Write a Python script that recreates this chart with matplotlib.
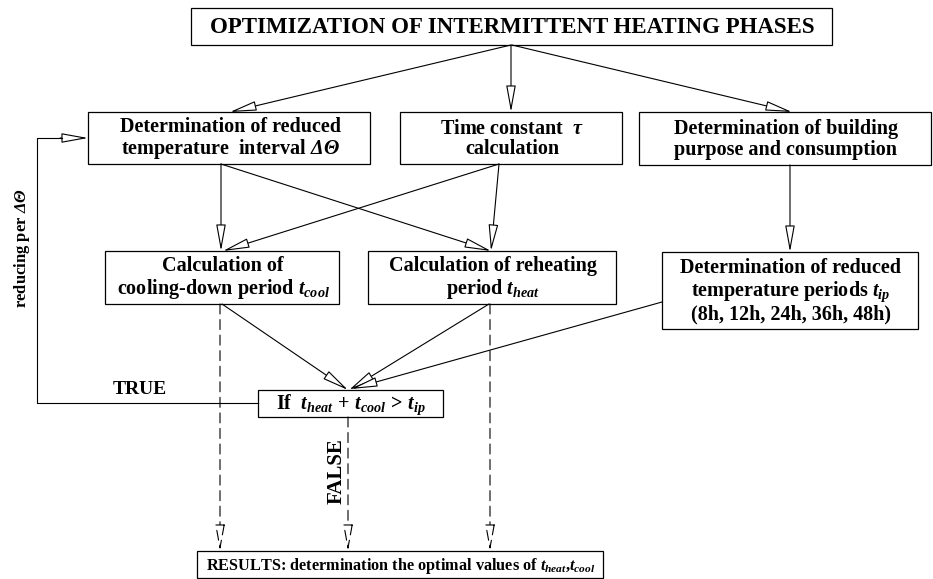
import matplotlib
matplotlib.use('Agg')
import matplotlib.pyplot as plt
from matplotlib.patches import Rectangle, FancyArrowPatch, ArrowStyle

plt.rcParams['font.family'] = 'Liberation Serif'
plt.rcParams['font.weight'] = 'bold'
plt.rcParams['mathtext.fontset'] = 'custom'
plt.rcParams['mathtext.rm'] = 'Liberation Serif:bold'
plt.rcParams['mathtext.it'] = 'Liberation Serif:italic:bold'
plt.rcParams['mathtext.bf'] = 'Liberation Serif:bold'
plt.rcParams['mathtext.sf'] = 'Liberation Serif:italic'

# box texts
box_names = ['top', 'A', 'B', 'C', 'D', 'E', 'F', 'G', 'H']
box_labels = [
    'OPTIMIZATION OF INTERMITTENT HEATING PHASES',
    'Determination of reduced\ntemperature  interval $\\mathsf{\\Delta\\Theta}$',
    'Time constant  $\\tau$\ncalculation',
    'Determination of building\npurpose and consumption',
    'Calculation of\ncooling-down period $t_{cool}$',
    'Calculation of reheating\nperiod $t_{heat}$',
    'Determination of reduced\ntemperature periods $t_{ip}$\n(8h, 12h, 24h, 36h, 48h)',
    'If  $t_{heat}\\,+\\,t_{cool}\\,>\\,t_{ip}$',
    'RESULTS: determination the optimal values of $t_{heat}$,$t_{cool}$',
]
# connections (from, to)
solid_edges = [('top', 'A'), ('top', 'B'), ('top', 'C'),
               ('A', 'D'), ('A', 'E'), ('B', 'D'), ('B', 'E'), ('C', 'F'),
               ('D', 'G'), ('E', 'G'), ('F', 'G')]
dashed_edges = [('D', 'H'), ('G', 'H'), ('E', 'H')]
loop_label = 'reducing per $\\mathsf{\\Delta\\Theta}$'
true_label = 'TRUE'
false_label = 'FALSE'

# layout in pixels (x0, y0, x1, y1)
box_pos = {
    'top': (191, 8, 832, 45),
    'A': (88, 112, 370, 164),
    'B': (400, 112, 622, 164),
    'C': (639, 112, 931, 165),
    'D': (105, 251, 339, 304),
    'E': (368, 251, 616, 304),
    'F': (662, 252, 918, 329),
    'G': (258, 390, 443, 417),
    'H': (197, 551, 603, 578),
}
box_fontsize = {'top': 16.5, 'H': 11.7}
edge_pts = {
    ('top', 'A'): ((511, 45), (230, 112)),
    ('top', 'B'): ((511, 45), (511, 112)),
    ('top', 'C'): ((512, 45), (792, 112)),
    ('A', 'D'): ((221, 164), (221, 251)),
    ('A', 'E'): ((221, 164), (491, 251)),
    ('B', 'D'): ((499, 164), (223, 251)),
    ('B', 'E'): ((499, 164), (491, 251)),
    ('C', 'F'): ((790, 165), (790, 252)),
    ('D', 'G'): ((222, 304), (348, 390)),
    ('E', 'G'): ((489, 304), (349, 390)),
    ('F', 'G'): ((662, 302), (351, 389)),
    ('D', 'H'): ((220, 304), (220, 551)),
    ('G', 'H'): ((348, 417), (348, 551)),
    ('E', 'H'): ((490, 304), (490, 551)),
}

W, H = 933, 579
fig = plt.figure(figsize=(W / 100, H / 100), dpi=100)
ax = fig.add_axes([0, 0, 1, 1])
ax.set_xlim(0, W)
ax.set_ylim(H, 0)
ax.axis('off')

head = ArrowStyle('-|>', head_length=1.65, head_width=0.3)


def arrow(p0, p1, ls='-'):
    a = FancyArrowPatch(p0, p1, arrowstyle=head, mutation_scale=10,
                        lw=0.8, ec='black', fc='white', linestyle=ls,
                        shrinkA=0, shrinkB=0)
    ax.add_patch(a)


for name, label in zip(box_names, box_labels):
    x0, y0, x1, y1 = box_pos[name]
    ax.add_patch(Rectangle((x0, y0), x1 - x0, y1 - y0, fill=False, lw=0.9, ec='black'))
    fs = box_fontsize.get(name, 14.5)
    ax.text((x0 + x1) / 2 + 1, (y0 + y1) / 2 + 1, label, ha='center', va='center',
            multialignment='center', fontsize=fs, linespacing=1.05)

for e in solid_edges:
    arrow(*edge_pts[e])
for e in dashed_edges:
    arrow(*edge_pts[e], ls=(0, (9, 5)))

# TRUE loop back to first box
ax.plot([258, 37, 37, 62], [403, 403, 138, 138], color='black', lw=0.8)
arrow((60, 138), (88, 138))

ax.text(140, 389, true_label, ha='center', va='center', fontsize=14)
ax.text(337, 471, false_label, ha='center', va='center', fontsize=15, rotation=90)
ax.text(22, 248, loop_label, ha='center', va='center', fontsize=12, rotation=90)

fig.savefig('out.png', dpi=100)
